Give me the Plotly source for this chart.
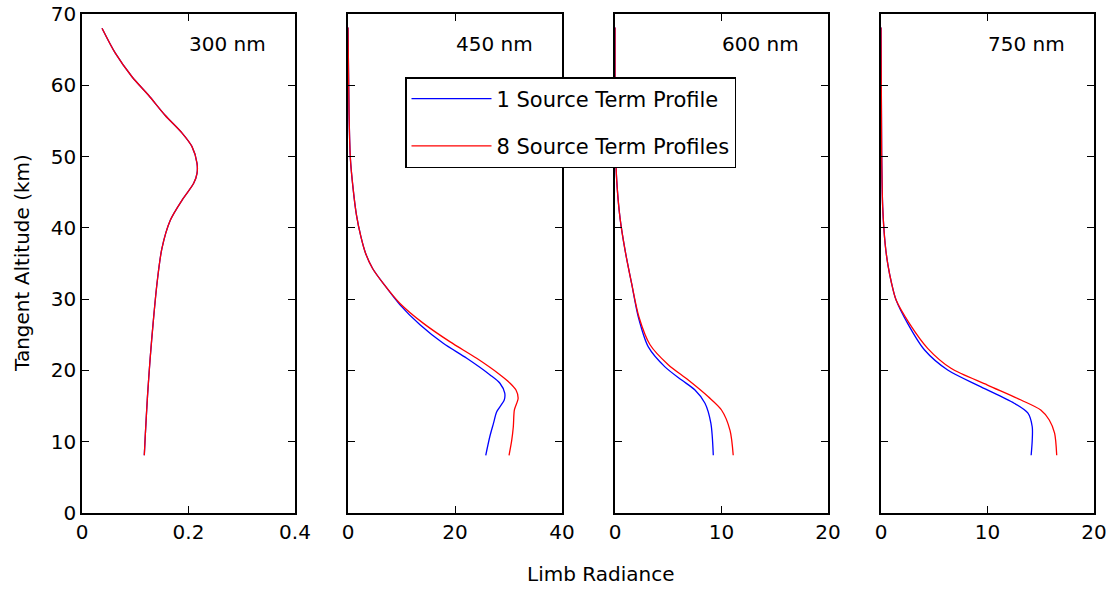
import plotly.graph_objects as go

# ---------------- data ----------------
panel_titles = ["300 nm", "450 nm", "600 nm", "750 nm"]
x_ranges = [[0, 0.4], [0, 40], [0, 20], [0, 20]]
x_ticks = [[0, 0.2, 0.4], [0, 20, 40], [0, 10, 20], [0, 10, 20]]
y_ticks = [0, 10, 20, 30, 40, 50, 60, 70]

# 300 nm (both series nearly identical)
alt_300 = [68.0, 64.5, 61.2, 58.6, 55.8, 53.3, 51.4, 49.05, 47.65, 46.25, 43.9, 41.1, 37.1, 32.3, 27.0, 21.7, 16.4, 11.1, 8.1]
one_300 = [0.0376, 0.0626, 0.0939, 0.125, 0.156, 0.188, 0.2066, 0.216, 0.216, 0.2097, 0.188, 0.166, 0.150, 0.141, 0.134, 0.128, 0.123, 0.119, 0.117]
eight_300 = [0.0376, 0.0626, 0.0939, 0.125, 0.156, 0.188, 0.2066, 0.216, 0.216, 0.2097, 0.188, 0.166, 0.150, 0.141, 0.134, 0.128, 0.123, 0.119, 0.117]

# 450 nm
alt_450_one = [68.1, 56.2, 49.8, 45.6, 41.9, 38.8, 36.4, 34.3, 32.0, 29.2, 26.4, 23.8, 21.7, 19.4, 18.2, 16.8, 15.85, 14.2, 12.6, 10.7, 8.1]
one_450 = [0.0, 0.19, 0.44, 0.94, 1.56, 2.4, 3.3, 4.6, 6.8, 9.72, 13.46, 17.8, 22.2, 26.5, 28.4, 29.3, 29.2, 27.8, 27.2, 26.5, 25.75]
alt_450_eight = [68.1, 56.2, 49.8, 45.6, 41.9, 38.8, 36.4, 34.3, 32.0, 29.4, 26.6, 24.0, 21.7, 19.4, 18.2, 17.25, 16.1, 14.45, 12.1, 10.2, 8.1]
eight_450 = [0.0, 0.19, 0.44, 0.94, 1.56, 2.4, 3.3, 4.6, 6.8, 9.72, 14.1, 19.1, 24.05, 28.4, 30.3, 31.4, 31.8, 31.1, 30.9, 30.6, 30.1]

# 600 nm
alt_600_one = [68.1, 61.5, 50.9, 46.7, 41.4, 36.9, 32.2, 27.5, 23.3, 20.5, 18.65, 17.25, 15.4, 12.6, 8.1]
one_600 = [0.0, 0.0, 0.06, 0.16, 0.47, 0.94, 1.56, 2.19, 3.13, 4.69, 6.26, 7.51, 8.45, 9.0, 9.23]
alt_600_eight = [68.1, 61.5, 50.9, 46.7, 41.4, 36.9, 32.2, 27.5, 23.6, 20.8, 18.65, 16.3, 14.45, 11.6, 8.1]
eight_600 = [0.0, 0.0, 0.06, 0.16, 0.47, 0.94, 1.56, 2.25, 3.29, 5.0, 6.88, 8.76, 10.0, 10.8, 11.1]

# 750 nm
alt_750_one = [68.1, 50.9, 42.9, 37.6, 34.8, 32.3, 29.9, 26.6, 22.9, 20.06, 17.7, 15.4, 14.0, 12.1, 10.2, 8.1]
one_750 = [0.0, 0.06, 0.16, 0.4, 0.65, 0.98, 1.41, 2.5, 4.07, 6.26, 9.39, 12.5, 13.8, 14.2, 14.2, 14.1]
alt_750_eight = [68.1, 50.9, 42.9, 37.6, 34.8, 32.3, 29.9, 26.6, 23.1, 20.3, 17.95, 15.85, 14.45, 13.05, 11.2, 8.1]
eight_750 = [0.0, 0.06, 0.16, 0.4, 0.65, 0.98, 1.41, 2.66, 4.38, 6.57, 10.0, 13.15, 15.0, 15.8, 16.3, 16.5]

series = [
    (one_300, alt_300, eight_300, alt_300),
    (one_450, alt_450_one, eight_450, alt_450_eight),
    (one_600, alt_600_one, eight_600, alt_600_eight),
    (one_750, alt_750_one, eight_750, alt_750_eight),
]
legend_names = ["1 Source Term Profile", "8 Source Term Profiles"]

# ---------------- layout ----------------
W, H = 1116, 590


def fx(p):
    return p / W


def fy(p):
    return 1 - p / H


px_domains = [(82, 295), (348, 562), (615, 828), (881, 1094)]
y_dom = [fy(513), fy(14)]
FONT = "DejaVu Sans"
FS = 20

fig = go.Figure()
layout = dict(
    width=W, height=H,
    margin=dict(l=0, r=0, t=0, b=0, autoexpand=False),
    paper_bgcolor="white", plot_bgcolor="white",
    font=dict(family=FONT, size=FS, color="black"),
    showlegend=True,
    legend=dict(
        x=fx(405), y=fy(77), xanchor="left", yanchor="top",
        bgcolor="white", bordercolor="black", borderwidth=1.5,
        font=dict(family=FONT, size=21, color="black"),
        tracegroupgap=17, traceorder="grouped", itemwidth=80,
    ),
)

for i in range(4):
    xa = "xaxis" if i == 0 else f"xaxis{i+1}"
    ya = "yaxis" if i == 0 else f"yaxis{i+1}"
    xr = "x" if i == 0 else f"x{i+1}"
    yr = "y" if i == 0 else f"y{i+1}"
    x0, x1 = px_domains[i]
    layout[xa] = dict(
        domain=[fx(x0), fx(x1)], range=x_ranges[i], anchor=yr,
        tickvals=x_ticks[i], ticktext=[f"{v:g}" for v in x_ticks[i]],
        ticks="inside", ticklen=7, tickwidth=1, tickcolor="black",
        showline=True, linecolor="black", linewidth=1.5, mirror="ticks",
        showgrid=False, zeroline=False, automargin=False,
        ticklabeloverflow="allow",
        tickfont=dict(family=FONT, size=FS, color="black"),
    )
    layout[ya] = dict(
        domain=y_dom, range=[0, 70], anchor=xr,
        tickvals=y_ticks, showticklabels=(i == 0),
        ticks="inside", ticklen=7, tickwidth=1, tickcolor="black",
        showline=True, linecolor="black", linewidth=1.5, mirror="ticks",
        showgrid=False, zeroline=False, automargin=False,
        ticklabeloverflow="allow",
        tickfont=dict(family=FONT, size=FS, color="black"),
    )
    ox, oy, rx, ry = series[i]
    fig.add_trace(go.Scatter(
        x=ox, y=oy, mode="lines", line=dict(color="#0000FF", width=1.3, shape="spline", smoothing=0.8),
        name=legend_names[0], legendgroup="a", showlegend=(i == 0),
        xaxis=xr, yaxis=yr,
    ))
    fig.add_trace(go.Scatter(
        x=rx, y=ry, mode="lines", line=dict(color="#FF0000", width=1.3, shape="spline", smoothing=0.8),
        name=legend_names[1], legendgroup="b", showlegend=(i == 0),
        xaxis=xr, yaxis=yr,
    ))

annotations = []
for i in range(4):
    xr = "x" if i == 0 else f"x{i+1}"
    yr = "y" if i == 0 else f"y{i+1}"
    annotations.append(dict(
        text=panel_titles[i], xref=f"{xr} domain", yref=f"{yr} domain",
        x=0.685, y=(fy(44) - y_dom[0]) / (y_dom[1] - y_dom[0]),
        xanchor="center", yanchor="middle", showarrow=False,
        font=dict(family=FONT, size=FS, color="black"),
    ))
annotations.append(dict(
    text="Limb Radiance", xref="paper", yref="paper",
    x=fx(600), y=fy(574), xanchor="center", yanchor="middle",
    showarrow=False, font=dict(family=FONT, size=FS, color="black"),
))
annotations.append(dict(
    text="Tangent Altitude (km)", xref="paper", yref="paper",
    x=fx(22), y=fy(263), xanchor="center", yanchor="middle",
    textangle=-90, showarrow=False, font=dict(family=FONT, size=FS, color="black"),
))
layout["annotations"] = annotations

fig.update_layout(**layout)
# remove the default 8px page margin so the figure fills the window exactly
fig.write_html(
    "out.html",
    config={"displayModeBar": False},
    post_script="document.body.style.margin='0';document.body.style.overflow='hidden';",
)
